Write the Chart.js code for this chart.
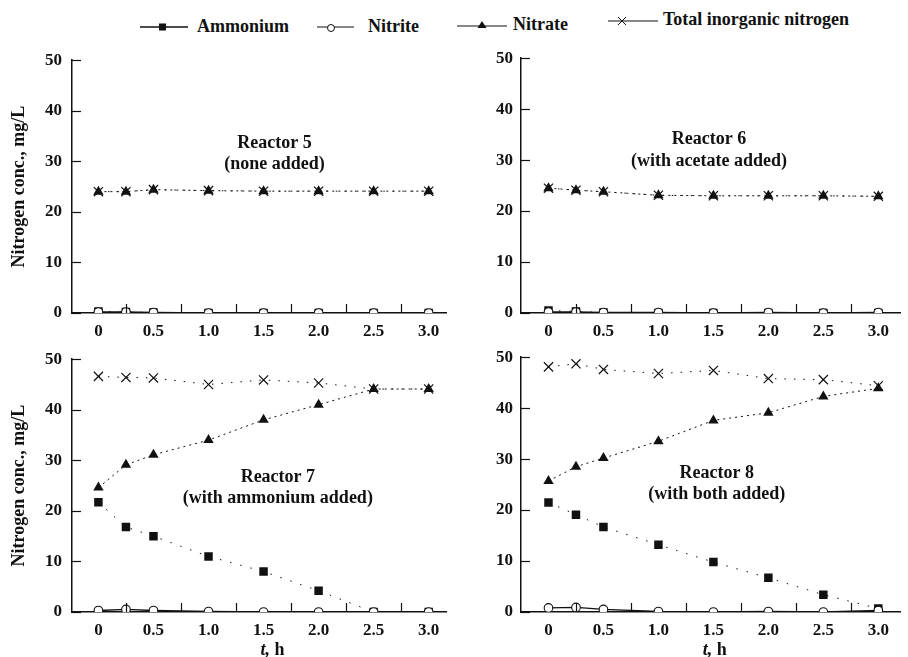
<!DOCTYPE html>
<html>
<head>
<meta charset="utf-8">
<script src="https://cdn.jsdelivr.net/npm/chart.js@4/dist/chart.umd.min.js"></script>
<style>
  body { margin: 0; background: #fff; width: 908px; height: 657px; overflow: hidden; position: relative; font-family: "Liberation Serif", "DejaVu Serif", serif; }
  .panel { position: absolute; }
  .leg { position: absolute; font-size: 18px; font-weight: bold; color: #111; white-space: nowrap; }
  .leg svg { position: absolute; }
</style>
</head>
<body>
<div class="leg" style="left:140px;top:16px;"><svg width="50" height="14" style="left:0;top:4px"><line x1="0" y1="7" x2="48" y2="7" stroke="#111" stroke-width="1.5"/><rect x="19" y="3.5" width="7" height="7" fill="#111"/></svg><span style="position:absolute;left:57px;top:0">Ammonium</span></div>
<div class="leg" style="left:317px;top:16px;"><svg width="50" height="14" style="left:0;top:4px"><line x1="0" y1="7" x2="37" y2="7" stroke="#111" stroke-width="1.2"/><circle cx="14" cy="8" r="3.5" fill="#fff" stroke="#111" stroke-width="1"/></svg><span style="position:absolute;left:51px;top:0">Nitrite</span></div>
<div class="leg" style="left:457px;top:14px;"><svg width="52" height="14" style="left:0;top:4px"><line x1="0" y1="8" x2="50" y2="8" stroke="#111" stroke-width="1.2"/><polygon points="25,3 29.5,10 20.5,10" fill="#111"/></svg><span style="position:absolute;left:56px;top:0">Nitrate</span></div>
<div class="leg" style="left:608px;top:9px;"><svg width="52" height="14" style="left:0;top:4px"><line x1="0" y1="8" x2="50" y2="8" stroke="#111" stroke-width="1.2"/><path d="M10,4 L18,12 M18,4 L10,12" stroke="#111" stroke-width="1"/></svg><span style="position:absolute;left:55px;top:0">Total inorganic nitrogen</span></div>

<canvas id="c5" class="panel"></canvas>
<canvas id="c6" class="panel"></canvas>
<canvas id="c7" class="panel"></canvas>
<canvas id="c8" class="panel"></canvas>

<script>
// sampling times, h
const times = [0, 0.25, 0.5, 1.0, 1.5, 2.0, 2.5, 3.0];
const xTickValues = [0, 0.5, 1.0, 1.5, 2.0, 2.5, 3.0];
const xMinorTicks = [0.25, 0.75, 1.25, 1.75, 2.25, 2.75];
const yTickValues = [0, 10, 20, 30, 40, 50];

// Reactor 5 (none added)
const ammonium5 = [0.3, 0.2, 0.1, 0, 0, 0, 0, 0];
const nitrite5 = [0.2, 0.2, 0.1, 0, 0, 0, 0, 0];
const nitrate5 = [24.0, 24.0, 24.4, 24.2, 24.1, 24.1, 24.1, 24.1];
const total5 = [24.0, 24.0, 24.4, 24.2, 24.1, 24.1, 24.1, 24.1];

// Reactor 6 (with acetate added)
const ammonium6 = [0.5, 0.3, 0.1, 0, 0, 0, 0, 0];
const nitrite6 = [0.2, 0.2, 0.1, 0.1, 0, 0.1, 0, 0.1];
const nitrate6 = [24.5, 24.1, 23.8, 23.1, 23.0, 23.0, 23.0, 22.9];
const total6 = [24.5, 24.1, 23.8, 23.1, 23.0, 23.0, 23.0, 22.9];

// Reactor 7 (with ammonium added)
const ammonium7 = [21.7, 16.8, 15.0, 11.0, 8.0, 4.2, 0, 0];
const nitrite7 = [0.3, 0.5, 0.3, 0.1, 0, 0, 0, 0];
const nitrate7 = [24.6, 29.1, 31.1, 34.0, 38.0, 41.0, 44.1, 44.1];
const total7 = [46.6, 46.4, 46.3, 45.0, 45.9, 45.3, 44.1, 44.1];

// Reactor 8 (with both added)
const ammonium8 = [21.5, 19.1, 16.7, 13.2, 9.8, 6.7, 3.4, 0.7];
const nitrite8 = [0.8, 0.9, 0.5, 0.1, 0, 0.1, 0, 0.3];
const nitrate8 = [25.7, 28.5, 30.2, 33.5, 37.6, 39.1, 42.3, 43.9];
const total8 = [48.1, 48.7, 47.6, 46.8, 47.4, 45.8, 45.6, 44.4];

const ink = '#111';
const fontFam = '"Liberation Serif", "DejaVu Serif", serif';

function pts(vals) {
  return times.map((t, i) => ({ x: t, y: vals[i] }));
}

// inward tick marks and panel captions
const panelExtras = {
  id: 'panelExtras',
  afterDraw(chart, args, opts) {
    const ctx = chart.ctx;
    const xs = chart.scales.x, ys = chart.scales.y;
    const a = chart.chartArea;
    ctx.save();
    ctx.strokeStyle = ink;
    ctx.lineWidth = 1.2;
    yTickValues.forEach(v => {
      const py = Math.round(ys.getPixelForValue(v)) + 0.5;
      ctx.beginPath();
      ctx.moveTo(a.left, py);
      ctx.lineTo(a.left + 9, py);
      ctx.stroke();
    });
    xMinorTicks.forEach(v => {
      const px = Math.round(xs.getPixelForValue(v)) + 0.5;
      ctx.beginPath();
      ctx.moveTo(px, a.bottom);
      ctx.lineTo(px, a.bottom - 9);
      ctx.stroke();
    });
    ctx.fillStyle = ink;
    ctx.textAlign = 'center';
    ctx.textBaseline = 'middle';
    ctx.font = 'bold 18px ' + fontFam;
    const cx = xs.getPixelForValue(opts.captionX);
    ctx.fillText(opts.line1, cx, ys.getPixelForValue(opts.captionY1));
    ctx.fillText(opts.line2, cx, ys.getPixelForValue(opts.captionY2));
    if (opts.showXTitle) {
      const tx = xs.getPixelForValue(opts.xTitleX);
      const ty = a.bottom + 38;
      ctx.textAlign = 'left';
      ctx.font = 'italic bold 18px ' + fontFam;
      const w1 = ctx.measureText('t, ').width;
      ctx.fillText('t,', tx - 14, ty);
      ctx.font = 'bold 18px ' + fontFam;
      ctx.fillText('h', tx - 14 + w1, ty);
    }
    ctx.restore();
  }
};

function makePanel(id, pos, data, cap) {
  const el = document.getElementById(id);
  el.style.left = pos.left + 'px';
  el.style.top = pos.top + 'px';
  el.width = pos.width;
  el.height = pos.height;
  el.style.width = pos.width + 'px';
  el.style.height = pos.height + 'px';

  new Chart(el, {
    type: 'line',
    data: {
      datasets: [
        {
          label: 'Nitrite',
          data: pts(data.nitrite),
          borderColor: ink, borderWidth: 1.3,
          pointStyle: 'circle', pointRadius: 4.3,
          pointBackgroundColor: '#fff', pointBorderColor: ink, pointBorderWidth: 1.1
        },
        {
          label: 'Ammonium',
          data: pts(data.ammonium),
          borderColor: ink, borderWidth: 1, borderDash: [1.5, 9],
          pointStyle: 'rect', pointRadius: 6,
          pointBackgroundColor: ink, pointBorderColor: ink, pointBorderWidth: 0
        },
        {
          label: 'Nitrate',
          data: pts(data.nitrate),
          borderColor: ink, borderWidth: 1, borderDash: [2, 4],
          pointStyle: 'triangle', pointRadius: 6,
          pointBackgroundColor: ink, pointBorderColor: ink, pointBorderWidth: 0
        },
        {
          label: 'Total inorganic nitrogen',
          data: pts(data.total),
          borderColor: ink, borderWidth: 1, borderDash: [1.5, 8],
          pointStyle: 'crossRot', pointRadius: 6.5,
          pointBorderColor: ink, pointBorderWidth: 1.2
        }
      ]
    },
    options: {
      responsive: false,
      animation: false,
      layout: { padding: { top: 12, right: 1, left: 0, bottom: 0 } },
      plugins: {
        legend: { display: false },
        tooltip: { enabled: false },
        panelExtras: cap
      },
      scales: {
        x: {
          type: 'linear',
          min: pos.xmin, max: pos.xmax,
          afterBuildTicks: s => { s.ticks = xTickValues.map(v => ({ value: v })); },
          afterFit: s => { s.height = pos.xh; },
          grid: { display: false, drawTicks: false },
          border: { color: ink, width: 1.5 },
          ticks: {
            color: ink, padding: 8, maxRotation: 0, autoSkip: false,
            font: { family: fontFam, size: 17, weight: 'bold' },
            callback: v => v === 0 ? '0' : v.toFixed(1)
          }
        },
        y: {
          min: 0, max: 50,
          afterBuildTicks: s => { s.ticks = yTickValues.map(v => ({ value: v })); },
          afterFit: s => { s.width = pos.yw; },
          grid: { display: false, drawTicks: false },
          border: { color: ink, width: 1.5 },
          ticks: {
            color: ink, padding: pos.ypad,
            font: { family: fontFam, size: 17, weight: 'bold' }
          },
          title: {
            display: pos.ytitle,
            text: 'Nitrogen conc., mg/L',
            color: ink,
            padding: { top: 9, bottom: 0 },
            font: { family: fontFam, size: 18, weight: 'bold' }
          }
        }
      }
    },
    plugins: [panelExtras]
  });
}

makePanel('c5', { left: 0, top: 40, width: 454, height: 303, xmin: -0.24, xmax: 3.16, xh: 30, yw: 72, ypad: 10, ytitle: true },
  { ammonium: ammonium5, nitrite: nitrite5, nitrate: nitrate5, total: total5 },
  { line1: 'Reactor 5', line2: '(none added)', captionX: 1.6, captionY1: 33.5, captionY2: 29.4, showXTitle: false });

makePanel('c6', { left: 454, top: 40, width: 454, height: 303, xmin: -0.25, xmax: 3.2, xh: 30, yw: 67, ypad: 8, ytitle: false },
  { ammonium: ammonium6, nitrite: nitrite6, nitrate: nitrate6, total: total6 },
  { line1: 'Reactor 6', line2: '(with acetate added)', captionX: 1.46, captionY1: 34.0, captionY2: 29.8, showXTitle: false });

makePanel('c7', { left: 0, top: 339, width: 454, height: 318, xmin: -0.24, xmax: 3.16, xh: 45, yw: 72, ypad: 10, ytitle: true },
  { ammonium: ammonium7, nitrite: nitrite7, nitrate: nitrate7, total: total7 },
  { line1: 'Reactor 7', line2: '(with ammonium added)', captionX: 1.63, captionY1: 26.7, captionY2: 22.4, showXTitle: true, xTitleX: 1.6 });

makePanel('c8', { left: 454, top: 339, width: 454, height: 318, xmin: -0.25, xmax: 3.2, xh: 45, yw: 67, ypad: 8, ytitle: false },
  { ammonium: ammonium8, nitrite: nitrite8, nitrate: nitrate8, total: total8 },
  { line1: 'Reactor 8', line2: '(with both added)', captionX: 1.53, captionY1: 27.2, captionY2: 23.1, showXTitle: true, xTitleX: 1.53 });
</script>
</body>
</html>
